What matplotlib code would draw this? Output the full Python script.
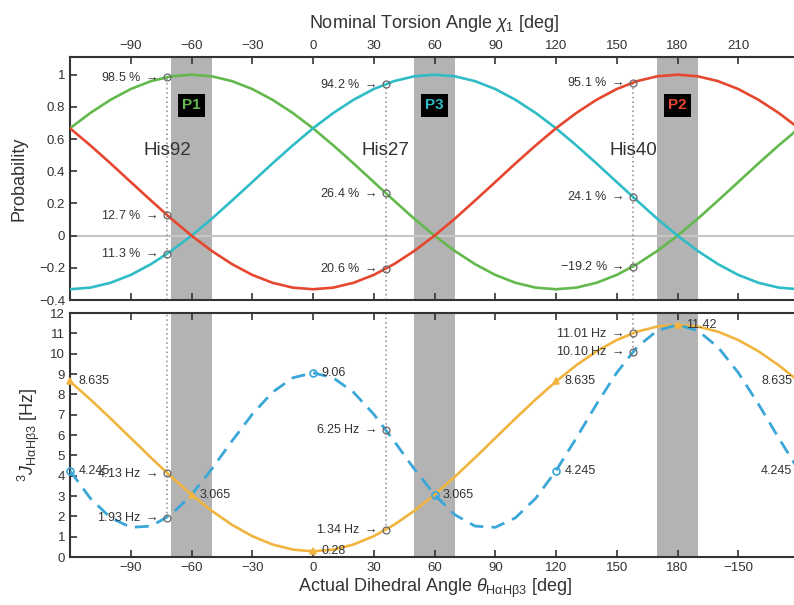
import matplotlib
matplotlib.use("Agg")
import matplotlib.pyplot as plt

plt.rcParams['font.family'] = ['Liberation Sans', 'DejaVu Sans']
plt.rcParams['mathtext.fontset'] = 'custom'
plt.rcParams['mathtext.rm'] = 'Liberation Sans'
plt.rcParams['mathtext.it'] = 'Liberation Sans:italic'
plt.rcParams['mathtext.bf'] = 'Liberation Sans:bold'

# ---- data -------------------------------------------------------------
# torsion angle grid (deg)
angle = list(range(-120, 241, 10))

# rotamer probabilities
p1 = [0.667, 0.762, 0.844, 0.911, 0.960, 0.990, 1.000, 0.990, 0.960, 0.911,
      0.844, 0.762, 0.667, 0.561, 0.449, 0.333, 0.218, 0.105, 0.000, -0.095,
      -0.177, -0.244, -0.293, -0.323, -0.333, -0.323, -0.293, -0.244, -0.177,
      -0.095, 0.000, 0.105, 0.218, 0.333, 0.449, 0.561, 0.667]
p3 = [-0.333, -0.323, -0.293, -0.244, -0.177, -0.095, 0.000, 0.105, 0.218,
      0.333, 0.449, 0.561, 0.667, 0.762, 0.844, 0.911, 0.960, 0.990, 1.000,
      0.990, 0.960, 0.911, 0.844, 0.762, 0.667, 0.561, 0.449, 0.333, 0.218,
      0.105, 0.000, -0.095, -0.177, -0.244, -0.293, -0.323, -0.333]
p2 = [0.667, 0.561, 0.449, 0.333, 0.218, 0.105, 0.000, -0.095, -0.177,
      -0.244, -0.293, -0.323, -0.333, -0.323, -0.293, -0.244, -0.177, -0.095,
      0.000, 0.105, 0.218, 0.333, 0.449, 0.561, 0.667, 0.762, 0.844, 0.911,
      0.960, 0.990, 1.000, 0.990, 0.960, 0.911, 0.844, 0.762, 0.667]

# 3J(Ha,Hb3) couplings (Hz)
j_solid = [8.635, 7.755, 6.817, 5.850, 4.883, 3.945, 3.065, 2.270, 1.583,
           1.026, 0.616, 0.365, 0.280, 0.365, 0.616, 1.026, 1.583, 2.270,
           3.065, 3.945, 4.883, 5.850, 6.817, 7.755, 8.635, 9.430, 10.117,
           10.674, 11.084, 11.335, 11.420, 11.335, 11.084, 10.674, 10.117,
           9.430, 8.635]
j_dashed = [4.245, 2.891, 1.930, 1.460, 1.520, 2.083, 3.065, 4.329, 5.708,
            7.023, 8.104, 8.813, 9.060, 8.813, 8.104, 7.023, 5.708, 4.329,
            3.065, 2.083, 1.520, 1.460, 1.930, 2.891, 4.245, 5.847, 7.516,
            9.067, 10.322, 11.137, 11.420, 11.137, 10.322, 9.067, 7.516,
            5.847, 4.245]

# histidine residues
his_names = ['His92', 'His27', 'His40']
his_angle = [-72, 36, 158]
his_p1 = [0.985, 0.264, -0.192]
his_p3 = [-0.113, 0.942, 0.241]
his_p2 = [0.127, -0.206, 0.951]
his_j_solid = [4.13, 1.34, 11.01]
his_j_dashed = [1.93, 6.25, 10.10]

# staggered rotamers
rot_names = ['P1', 'P3', 'P2']
rot_centre = [-60, 60, 180]
rot_halfwidth = 10

# labelled points on the coupling curves
tip_solid_angle = [-120, -60, 0, 120, 180, 240]
tip_dashed_angle = [-120, 0, 60, 120, 240]

top_ticks = [-90, -60, -30, 0, 30, 60, 90, 120, 150, 180, 210]
bottom_tick_labels = ['\u221290', '\u221260', '\u221230', '0', '30', '60',
                      '90', '120', '150', '180', '\u2212150']

# ---- style ------------------------------------------------------------
c_p1 = '#63b94e'
c_p3 = '#2fbcc6'
c_p2 = '#e5472f'
c_solid = '#f0b43f'
c_dashed = '#3ba7d8'
c_band = '#b3b3b3'
c_text = '#333333'
c_mark = '#666666'
ARROW = '$\\rightarrow$'

fig = plt.figure(figsize=(7.94, 6.05), dpi=100)
ax1 = fig.add_axes([0.0882, 0.5041, 0.9181, 0.4017])
ax2 = fig.add_axes([0.0882, 0.0793, 0.9181, 0.4033])

for ax in (ax1, ax2):
    ax.set_xlim(-120, 240)
    for c in rot_centre:
        ax.axvspan(c - rot_halfwidth, c + rot_halfwidth, color=c_band,
                   lw=0, zorder=1)
    for s in ax.spines.values():
        s.set_linewidth(1.5)
        s.set_color('#333333')
    ax.spines['right'].set_visible(False)
    ax.set_xticks(top_ticks)
    ax.tick_params(direction='in', length=5, width=1.2, labelsize=9.5,
                   colors='#333333', top=True, bottom=True)

# ---- top panel: probabilities -----------------------------------------
ax1.set_ylim(-0.4, 1.11)
ax1.set_yticks([-0.4, -0.2, 0, 0.2, 0.4, 0.6, 0.8, 1])
ax1.set_yticklabels(['\u22120.4', '\u22120.2', '0', '0.2', '0.4', '0.6',
                     '0.8', '1'])
ax1.axhline(0, color='#c6c6c6', lw=1.5, zorder=1.5)
ax1.plot(angle, p1, color=c_p1, lw=1.9, zorder=3)
ax1.plot(angle, p3, color=c_p3, lw=1.9, zorder=3)
ax1.plot(angle, p2, color=c_p2, lw=1.9, zorder=3)
ax1.xaxis.tick_top()
ax1.tick_params(top=True, bottom=True, labeltop=True, labelbottom=False)
ax1.set_xlabel('Nominal Torsion Angle $\\chi_1$ [deg]', fontsize=13,
               color=c_text, labelpad=9)
ax1.xaxis.set_label_position('top')
ax1.set_ylabel('Probability', fontsize=13, color=c_text, labelpad=8)

keep_sign = {(2, 'p1')}
for i, (name, a) in enumerate(zip(his_names, his_angle)):
    vals = {'p1': his_p1[i], 'p3': his_p3[i], 'p2': his_p2[i]}
    top = max(vals.values())
    ax1.plot([a, a], [-0.4, top], ls=(0, (1, 2)), color='#8a8a8a', lw=1.1,
             zorder=2)
    for key, v in vals.items():
        ax1.plot(a, v, marker='o', ms=5, mfc='none', mec=c_mark, mew=0.9,
                 zorder=4)
        shown = v * 100 if (i, key) in keep_sign else abs(v) * 100
        txt = f'{shown:.1f} % '.replace('-', '\u2212') + ARROW
        ax1.annotate(txt, (a, v), xytext=(-7, 0), textcoords='offset points',
                     ha='right', va='center', fontsize=9, color=c_text)
    ax1.text(a, 0.53, name, ha='center', va='center', fontsize=13.5,
             color=c_text, zorder=5)

for name, c, col in zip(rot_names, rot_centre, [c_p1, c_p3, c_p2]):
    ax1.text(c, 0.81, name, ha='center', va='center', fontsize=11,
             fontweight='bold', color=col, zorder=6,
             bbox=dict(boxstyle='square,pad=0.3', fc='black', ec='none'))

# ---- bottom panel: couplings ------------------------------------------
ax2.set_ylim(0, 12)
ax2.set_yticks(range(0, 13))
ax2.plot(angle, j_solid, color=c_solid, lw=1.9, zorder=3)
ax2.plot(angle, j_dashed, color=c_dashed, lw=2.0, ls=(0, (5, 3)), zorder=3)
ax2.set_xticklabels(bottom_tick_labels)
ax2.tick_params(top=True, bottom=True, labeltop=False, labelbottom=True)
ax2.set_xlabel('Actual Dihedral Angle $\\theta_{\\mathrm{H\\alpha H\\beta 3}}$ [deg]',
               fontsize=13, color=c_text, labelpad=2)
ax2.set_ylabel('$^{3}J_{\\mathrm{H\\alpha H\\beta 3}}$ [Hz]', fontsize=13,
               color=c_text, labelpad=6)

for i, a in enumerate(his_angle):
    js, jd = his_j_solid[i], his_j_dashed[i]
    ax2.plot([a, a], [min(js, jd), 12], ls=(0, (1, 2)), color='#8a8a8a',
             lw=1.1, zorder=2)
    for v in (js, jd):
        ax2.plot(a, v, marker='o', ms=5, mfc='none', mec=c_mark, mew=0.9,
                 zorder=4)
        ax2.annotate(f'{v:.2f} Hz ' + ARROW, (a, v), xytext=(-7, 0),
                     textcoords='offset points', ha='right', va='center',
                     fontsize=9, color=c_text)


def tip(ax, series, a, col, marker, filled):
    v = series[angle.index(a)]
    ax.plot(a, v, marker=marker, ms=5, mfc=col if filled else 'none',
            mec=col, mew=1.2, zorder=5, clip_on=False)
    right_edge = a >= 240
    ax.annotate(f'{v:g}', (a, v), xytext=(-5 if right_edge else 6, 0),
                textcoords='offset points',
                ha='right' if right_edge else 'left', va='center',
                fontsize=9, color=c_text, zorder=6)


for a in tip_solid_angle:
    tip(ax2, j_solid, a, c_solid, '^', True)
for a in tip_dashed_angle:
    tip(ax2, j_dashed, a, c_dashed, 'o', False)

fig.savefig('out.png', dpi=100)
